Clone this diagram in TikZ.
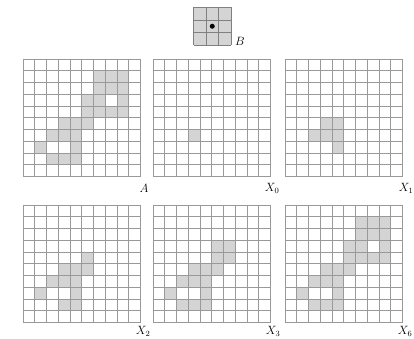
\documentclass[tikz,border=0pt]{standalone}
\usepackage{amsmath,amssymb}
\usepackage{xcolor}
\usepackage{tikz}

\def\cs{11.75}
% one 10x10 panel, top left at (#1,#2), shaded cells given as col/row
\newcommand{\gridpanel}[3]{%
  \begin{scope}[shift={(#1,#2)}]
    \foreach \c/\r in {#3}
      \fill[cell] (\c*\cs,\r*\cs) rectangle ++(\cs,\cs);
    \foreach \i in {0,...,10} {
      \draw[gridline] (\i*\cs,0) -- (\i*\cs,10*\cs);
      \draw[gridline] (0,\i*\cs) -- (10*\cs,\i*\cs);
    }
  \end{scope}}

\begin{document}
\begin{tikzpicture}[
    x=1pt,y=-1pt,
    cell/.style={fill=black!17},
    gridline/.style={draw=black!40,line width=0.8pt},
    lbl/.style={font=\large,inner sep=0pt}]
  \useasboundingbox (0,0) rectangle (414,339);

  % structuring element
  \begin{scope}[shift={(193.5,7.5)}]
    \fill[cell] (0,0) rectangle (37.5,37.5);
    \foreach \i in {0,1,2,3} {
      \draw[gridline,draw=black!50] (\i*12.5,0) -- (\i*12.5,37.5);
      \draw[gridline,draw=black!50] (0,\i*12.5) -- (37.5,\i*12.5);
    }
    \fill[black] (18.75,18.75) circle (2.5);
  \end{scope}
  \node[lbl] (labB) at (240,41) {$B$};

  % top row
  \gridpanel{23}{59}{6/1,7/1,8/1,6/2,7/2,8/2,5/3,6/3,8/3,5/4,6/4,7/4,8/4,
    3/5,4/5,5/5,2/6,3/6,4/6,1/7,4/7,2/8,3/8,4/8}
  \gridpanel{153}{59}{3/6}
  \gridpanel{285}{59}{3/5,4/5,2/6,3/6,4/6,4/7}

  % bottom row
  \gridpanel{23}{205}{5/4,3/5,4/5,5/5,2/6,3/6,4/6,1/7,4/7,3/8,4/8}
  \gridpanel{153}{205}{5/3,6/3,5/4,6/4,3/5,4/5,5/5,2/6,3/6,4/6,1/7,4/7,
    2/8,3/8,4/8}
  \gridpanel{285}{205}{6/1,7/1,8/1,6/2,7/2,8/2,5/3,6/3,8/3,5/4,6/4,7/4,8/4,
    3/5,4/5,5/5,2/6,3/6,4/6,1/7,4/7,2/8,3/8,4/8}

  \node[lbl] (labA)  at (144,188) {$A$};
  \node[lbl] (labX0) at (272,188) {$X_0$};
  \node[lbl] (labX1) at (406,188) {$X_1$};
  \node[lbl] (labX2) at (143,331) {$X_2$};
  \node[lbl] (labX3) at (273,331) {$X_3$};
  \node[lbl] (labX6) at (405,331) {$X_6$};
\end{tikzpicture}
\end{document}
